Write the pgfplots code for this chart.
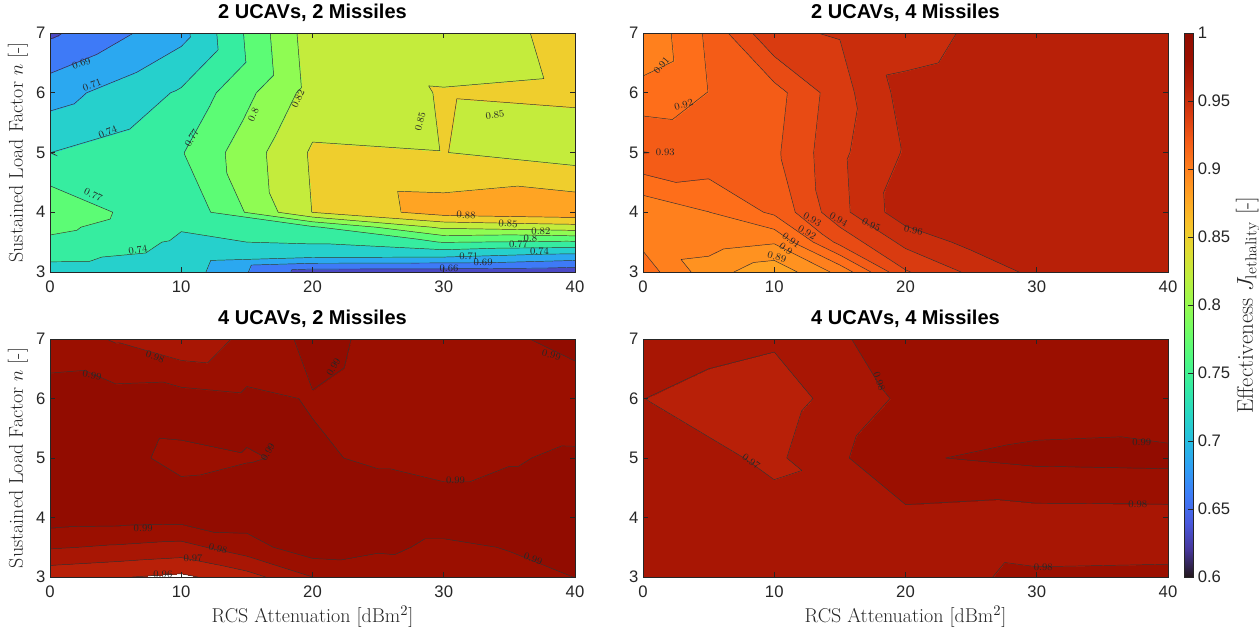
\documentclass[border=0pt]{standalone}
\usepackage{pgfplots}
\usepackage{pgfplotstable}
\pgfplotsset{compat=1.18}
\usepackage{fontspec}
\newfontfamily\arial{Liberation Sans}
\definecolor{axgray}{rgb}{0.15,0.15,0.15}
% turbo colormap (polynomial approximation)
\newcommand\turbo[2]{%
 \pgfmathsetmacro\tR{max(0,min(1,0.13572138+#2*(4.61539260+#2*(-42.66032258+#2*(132.13108234+#2*(-152.94239396+#2*59.28637943))))))}%
 \pgfmathsetmacro\tG{max(0,min(1,0.09140261+#2*(2.19418839+#2*(4.84296658+#2*(-14.18503333+#2*(4.27729857+#2*2.82956604))))))}%
 \pgfmathsetmacro\tB{max(0,min(1,0.10667330+#2*(12.64194608+#2*(-60.58204836+#2*(110.36276771+#2*(-89.90310912+#2*27.34824973))))))}%
 \definecolor{#1}{rgb}{\tR,\tG,\tB}}
\turbo{tb0}{0}\turbo{tb1}{0.05}\turbo{tb2}{0.1}\turbo{tb3}{0.15}\turbo{tb4}{0.2}
\turbo{tb5}{0.25}\turbo{tb6}{0.3}\turbo{tb7}{0.35}\turbo{tb8}{0.4}\turbo{tb9}{0.45}
\turbo{tb10}{0.5}\turbo{tb11}{0.55}\turbo{tb12}{0.6}\turbo{tb13}{0.65}\turbo{tb14}{0.7}
\turbo{tb15}{0.75}\turbo{tb16}{0.8}\turbo{tb17}{0.85}\turbo{tb18}{0.9}\turbo{tb19}{0.95}
\turbo{tb20}{1}
\turbo{pa1}{0.07875}\turbo{pa2}{0.1475}\turbo{pa3}{0.21625}\turbo{pa4}{0.285}
\turbo{pa5}{0.35375}\turbo{pa6}{0.4225}\turbo{pa7}{0.49125}\turbo{pa8}{0.56}
\turbo{pa9}{0.62875}\turbo{pa10}{0.6975}\turbo{pa11}{0.76625}
\turbo{q88}{0.7}\turbo{q89}{0.725}\turbo{q90}{0.75}\turbo{q91}{0.775}\turbo{q92}{0.8}
\turbo{q93}{0.825}\turbo{q94}{0.85}\turbo{q95}{0.875}\turbo{q96}{0.9}\turbo{q97}{0.925}
\turbo{q98}{0.95}\turbo{q99}{0.975}
% ---------------- data ----------------
\pgfplotstableread{
x y z
0 3 0.731
10 3 0.730
20 3 0.645
30 3 0.644
40 3 0.640
0 3.25 0.7464
10 3.25 0.734
20 3.25 0.716
30 3.25 0.714
40 3.25 0.700
0 3.5 0.7617
10 3.5 0.738
20 3.5 0.745
30 3.5 0.770
40 3.5 0.765
0 3.75 0.777
10 3.75 0.743
20 3.75 0.765
30 3.75 0.830
40 3.75 0.840
0 4 0.791
10 4 0.745
20 4 0.852
30 4 0.892
40 4 0.900
0 5 0.7413
10 5 0.767
20 5 0.855
30 5 0.852
40 5 0.838
0 6 0.702
10 6 0.745
20 6 0.835
30 6 0.853
40 6 0.856
0 7 0.654
10 7 0.705
20 7 0.840
30 7 0.837
40 7 0.859
}\tabA
\pgfplotstableread{
x y z
0 3 0.9154
5 3 0.8944
10 3 0.883
15 3 0.903
20 3 0.939
25 3 0.952
30 3 0.963
35 3 0.966
40 3 0.967
0 3.5 0.9077
5 3.5 0.905
10 3.5 0.901
15 3.5 0.933
20 3.5 0.953
25 3.5 0.963
30 3.5 0.966
35 3.5 0.967
40 3.5 0.967
0 4 0.902
5 4 0.9098
10 4 0.922
15 4 0.947
20 4 0.966
25 4 0.967
30 4 0.967
35 4 0.967
40 4 0.967
0 5 0.9302
5 5 0.928
10 5 0.928
15 5 0.948
20 5 0.961
25 5 0.966
30 5 0.967
35 5 0.967
40 5 0.967
0 6 0.9135
5 6 0.9202
10 6 0.926
15 6 0.946
20 6 0.964
25 6 0.967
30 6 0.967
35 6 0.967
40 6 0.967
0 7 0.901
5 7 0.922
10 7 0.949
15 7 0.9505
20 7 0.953
25 7 0.962
30 7 0.967
35 7 0.967
40 7 0.967
}\tabB
\pgfplotstableread{
x y z
0 3 0.963
5 3 0.9607
10 3 0.958
15 3 0.966
20 3 0.980
25 3 0.982
30 3 0.984
35 3 0.987
40 3 0.9901
0 3.5 0.981
5 3.5 0.9787
10 3.5 0.9764
15 3.5 0.986
20 3.5 0.996
25 3.5 0.992
30 3.5 0.988
35 3.5 0.9905
40 3.5 0.993
0 4 0.995
5 4 0.9945
10 4 0.994
15 4 0.9945
20 4 0.995
25 4 0.995
30 4 0.995
35 4 0.995
40 4 0.995
0 5 0.996
5 5 0.9921
10 5 0.9882
15 5 0.9896
20 5 0.991
25 5 0.9889
30 5 0.9867
35 5 0.9892
40 5 0.9916
0 6 0.993
5 6 0.9936
10 6 0.9942
15 6 0.9919
20 6 0.9895
25 6 0.9868
30 6 0.984
35 6 0.9838
40 6 0.9835
0 7 0.986
5 7 0.979
10 7 0.972
15 7 0.9825
20 7 0.993
25 7 0.9879
30 7 0.9827
35 7 0.9883
40 7 0.9938
}\tabC
\pgfplotstableread{
x y z
0 3 0.975
10 3 0.975
20 3 0.9784
30 3 0.9808
40 3 0.9810
0 4 0.975
10 4 0.9735
20 4 0.9775
30 4 0.9761
40 4 0.9763
0 5 0.9767
10 5 0.968
20 5 0.989
30 5 0.9923
40 5 0.993
0 6 0.9701
10 6 0.965
20 6 0.982
30 6 0.9846
40 6 0.981
0 7 0.975
10 7 0.9714
20 7 0.986
30 7 0.986
40 7 0.986
}\tabD
% ---------------- contour lines (marching triangles on the same grid) ----------------
\newcommand\getpt[3]{%
 \pgfplotstablegetelem{#2}{x}\of{#1}\expandafter\let\csname x#3\endcsname\pgfplotsretval
 \pgfplotstablegetelem{#2}{y}\of{#1}\expandafter\let\csname y#3\endcsname\pgfplotsretval
 \pgfplotstablegetelem{#2}{z}\of{#1}\expandafter\let\csname z#3\endcsname\pgfplotsretval}
\newcommand\edgecross[3]{%
 \edef\zU{\csname z#1\endcsname}\edef\zV{\csname z#2\endcsname}%
 \edef\xU{\csname x#1\endcsname}\edef\xV{\csname x#2\endcsname}%
 \edef\yU{\csname y#1\endcsname}\edef\yV{\csname y#2\endcsname}%
 \pgfmathtruncatemacro\su{\zU>=#3}\pgfmathtruncatemacro\sv{\zV>=#3}%
 \ifnum\su=\sv\else
  \pgfmathsetmacro\tpar{(#3-\zU)/(\zV-\zU)}%
  \pgfmathsetmacro\cx{\xU+\tpar*(\xV-\xU)}%
  \pgfmathsetmacro\cy{\yU+\tpar*(\yV-\yU)}%
  \edef\cpts{\cpts(\cx,\cy) }%
 \fi}
\newcommand\tri[4]{\def\cpts{}\edgecross{#1}{#2}{#4}\edgecross{#2}{#3}{#4}\edgecross{#3}{#1}{#4}%
 \ifx\cpts\empty\else\xdef\segs{\segs\cpts(nan,nan) }\fi}
\newcommand\contourlines[4]{% table, nx, ny, levels
 \gdef\segs{}%
 \pgfmathtruncatemacro\nxm{#2-2}\pgfmathtruncatemacro\nym{#3-2}%
 \foreach \jj in {0,...,\nym}{%
  \foreach \ii in {0,...,\nxm}{%
   \pgfmathtruncatemacro\rA{\jj*#2+\ii}\pgfmathtruncatemacro\rB{\rA+1}%
   \pgfmathtruncatemacro\rC{\rA+#2}\pgfmathtruncatemacro\rD{\rC+1}%
   \getpt{#1}{\rA}{A}\getpt{#1}{\rB}{B}\getpt{#1}{\rC}{C}\getpt{#1}{\rD}{D}%
   \foreach \LL in {#4}{\tri{A}{B}{C}{\LL}\tri{B}{D}{C}{\LL}}%
  }}}
\contourlines{\tabA}{5}{8}{0.659,0.6865,0.714,0.7415,0.769,0.7965,0.824,0.8515,0.879}\global\let\segsA\segs
\contourlines{\tabB}{9}{6}{0.88,0.89,0.9,0.91,0.92,0.93,0.94,0.95,0.96}\global\let\segsB\segs
\contourlines{\tabC}{9}{6}{0.96,0.97,0.98,0.99}\global\let\segsC\segs
\contourlines{\tabD}{5}{5}{0.96,0.97,0.98,0.99}\global\let\segsD\segs
\tikzset{lab/.style={font=\fontsize{7.5}{8}\selectfont, inner sep=0.3pt, text=black!85}}
\pgfplotsset{
 colormap={turbo}{color(0pt)=(tb0) color(1pt)=(tb1) color(2pt)=(tb2) color(3pt)=(tb3) color(4pt)=(tb4) color(5pt)=(tb5) color(6pt)=(tb6) color(7pt)=(tb7) color(8pt)=(tb8) color(9pt)=(tb9) color(10pt)=(tb10) color(11pt)=(tb11) color(12pt)=(tb12) color(13pt)=(tb13) color(14pt)=(tb14) color(15pt)=(tb15) color(16pt)=(tb16) color(17pt)=(tb17) color(18pt)=(tb18) color(19pt)=(tb19) color(20pt)=(tb20)},
 colormap={cmA}{color(600pt)=(white) color(631.5pt)=(pa1) color(659pt)=(pa2) color(686.5pt)=(pa3) color(714pt)=(pa4) color(741.5pt)=(pa5) color(769pt)=(pa6) color(796.5pt)=(pa7) color(824pt)=(pa8) color(851.5pt)=(pa9) color(879pt)=(pa10) color(906.5pt)=(pa11) color(1000pt)=(pa11)},
 colormap={cmB}{color(600pt)=(white) color(880pt)=(q88) color(890pt)=(q89) color(900pt)=(q90) color(910pt)=(q91) color(920pt)=(q92) color(930pt)=(q93) color(940pt)=(q94) color(950pt)=(q95) color(960pt)=(q96) color(970pt)=(q97) color(1000pt)=(q97)},
 colormap={cmC}{color(600pt)=(white) color(960pt)=(q96) color(970pt)=(q97) color(980pt)=(q98) color(990pt)=(q99) color(1000pt)=(q99)},
 panel/.style={
  scale only axis, width=393.75pt, height=179.25pt,
  xmin=0,xmax=40,ymin=3,ymax=7, enlargelimits=false,
  xtick={0,10,20,30,40}, ytick={3,4,5,6,7},
  tick align=inside, major tick length=3.5pt,
  tick style={axgray, line width=0.4pt},
  axis line style={axgray, line width=0.4pt},
  axis on top,
  point meta min=0.6, point meta max=1,
  /pgf/number format/assume math mode=true,
  tick label style={font=\arial\fontsize{12.5}{15}\selectfont, text=axgray},
  xticklabel style={yshift=-3pt},
  title style={font=\arial\bfseries\fontsize{15}{18}\selectfont, at={(0.5,1)}, anchor=south, inner sep=0pt, yshift=2pt},
  label style={font=\fontsize{15}{18}\selectfont, text=axgray},
  ylabel style={at={(axis description cs:-0.061,0.5)}, anchor=center},
  xlabel style={at={(axis description cs:0.5,-0.193)}, anchor=base},
 },
 cf/.style={surf, shader=interp, colormap access=piecewise constant, point meta=\thisrow{z}},
 cline/.style={draw=black!80, line width=0.35pt, unbounded coords=jump, mark=none, forget plot},
}
\begin{document}
\begin{tikzpicture}
\path[use as bounding box] (0,0) rectangle (944.25pt,-471pt);
% ---------- panel 1
\begin{axis}[panel, at={(37.5pt,-204pt)}, anchor=south west, colormap name=cmA,
 title={2 UCAVs, 2 Missiles}, ylabel={Sustained Load Factor $n$ [-]}]
\addplot[cf, mesh/rows=8, mesh/cols=5] table {\tabA};
\edef\temp{\noexpand\addplot[cline] coordinates {\segsA};}\temp
\node[lab, rotate=20] at (axis cs:2.4,6.49) {0.69};
\node[lab, rotate=20] at (axis cs:3.2,6.13) {0.71};
\node[lab, rotate=22] at (axis cs:4.4,5.35) {0.74};
\node[lab, rotate=60] at (axis cs:10.8,5.24) {0.77};
\node[lab, rotate=65] at (axis cs:15.5,5.63) {0.8};
\node[lab, rotate=65] at (axis cs:18.9,5.9) {0.82};
\node[lab, rotate=75] at (axis cs:28.2,5.52) {0.85};
\node[lab, rotate=8] at (axis cs:33.9,5.63) {0.85};
\node[lab, rotate=-25] at (axis cs:3.3,4.29) {0.77};
\node[lab, rotate=10] at (axis cs:6.7,3.37) {0.74};
\node[lab, rotate=-3] at (axis cs:31.7,3.95) {0.88};
\node[lab, rotate=-3] at (axis cs:34.9,3.81) {0.85};
\node[lab] at (axis cs:37.4,3.68) {0.82};
\node[lab] at (axis cs:36.6,3.57) {0.8};
\node[lab] at (axis cs:35.7,3.46) {0.77};
\node[lab] at (axis cs:37.3,3.34) {0.74};
\node[lab] at (axis cs:31.9,3.26) {0.71};
\node[lab] at (axis cs:33.0,3.16) {0.69};
\node[lab] at (axis cs:30.4,3.06) {0.66};
\end{axis}
% ---------- panel 2
\begin{axis}[panel, at={(482.25pt,-204pt)}, anchor=south west, colormap name=cmB,
 title={2 UCAVs, 4 Missiles}]
\addplot[cf, mesh/rows=6, mesh/cols=9] table {\tabB};
\edef\temp{\noexpand\addplot[cline] coordinates {\segsB};}\temp
\node[lab, rotate=50] at (axis cs:1.4,6.46) {0.91};
\node[lab, rotate=15] at (axis cs:3.1,5.8) {0.92};
\node[lab] at (axis cs:1.7,5.0) {0.93};
\node[lab, rotate=-30] at (axis cs:12.9,3.88) {0.93};
\node[lab, rotate=-30] at (axis cs:14.9,3.88) {0.94};
\node[lab, rotate=-25] at (axis cs:17.4,3.79) {0.95};
\node[lab, rotate=-30] at (axis cs:12.5,3.66) {0.92};
\node[lab, rotate=-35] at (axis cs:11.3,3.53) {0.91};
\node[lab, rotate=-35] at (axis cs:10.9,3.39) {0.9};
\node[lab, rotate=-15] at (axis cs:10.2,3.25) {0.89};
\node[lab, rotate=-10] at (axis cs:20.6,3.7) {0.96};
\end{axis}
% ---------- panel 3
\begin{axis}[panel, height=178.5pt, at={(37.5pt,-432.75pt)}, anchor=south west, colormap name=cmC,
 title={4 UCAVs, 2 Missiles}, ylabel={Sustained Load Factor $n$ [-]}, xlabel={RCS Attenuation [dBm$^2$]}]
\addplot[cf, mesh/rows=6, mesh/cols=9] table {\tabC};
\edef\temp{\noexpand\addplot[cline] coordinates {\segsC};}\temp
\node[lab, rotate=-20] at (axis cs:8.0,6.7) {0.98};
\node[lab, rotate=-10] at (axis cs:3.2,6.39) {0.99};
\node[lab, rotate=60] at (axis cs:16.6,5.1) {0.99};
\node[lab] at (axis cs:7.1,3.82) {0.99};
\node[lab, rotate=-15] at (axis cs:12.8,3.48) {0.98};
\node[lab] at (axis cs:10.9,3.31) {0.97};
\node[lab] at (axis cs:8.6,3.05) {0.96};
\node[lab, rotate=60] at (axis cs:21.6,6.53) {0.99};
\node[lab] at (axis cs:30.9,4.63) {0.99};
\node[lab, rotate=-15] at (axis cs:38.2,6.73) {0.99};
\node[lab, rotate=-20] at (axis cs:36.8,3.31) {0.99};
\end{axis}
% ---------- panel 4
\begin{axis}[panel, height=178.5pt, at={(482.25pt,-432.75pt)}, anchor=south west, colormap name=cmC,
 title={4 UCAVs, 4 Missiles}, xlabel={RCS Attenuation [dBm$^2$]}]
\addplot[cf, mesh/rows=5, mesh/cols=5] table {\tabD};
\edef\temp{\noexpand\addplot[cline] coordinates {\segsD};}\temp
\node[lab, rotate=-70] at (axis cs:18.0,6.29) {0.98};
\node[lab, rotate=-35] at (axis cs:8.25,4.94) {0.97};
\node[lab] at (axis cs:38.0,5.27) {0.99};
\node[lab] at (axis cs:37.7,4.23) {0.98};
\node[lab] at (axis cs:30.5,3.17) {0.98};
\end{axis}
% ---------- colorbar
\begin{axis}[scale only axis, width=6.3pt, height=408pt, at={(888.5pt,-432.75pt)}, anchor=south west,
 xmin=0, xmax=1, ymin=0.6, ymax=1, enlargelimits=false, xtick=\empty,
 ytick={0.6,0.65,0.7,0.75,0.8,0.85,0.9,0.95,1}, ytick pos=right, yticklabel pos=right,
 tick align=inside, major tick length=4pt, tick style={axgray, line width=0.4pt},
 axis line style={axgray, line width=0.4pt}, axis on top, colormap name=turbo,
 /pgf/number format/assume math mode=true,
 tick label style={font=\arial\fontsize{12.5}{15}\selectfont, text=axgray},
 ylabel={Effectiveness $J_{\mathrm{lethality}}$ [-]},
 ylabel style={at={(axis description cs:7.5,0.5)}, anchor=center, font=\fontsize{17}{20}\selectfont, text=axgray}]
\addplot[surf, shader=interp, mesh/rows=2, mesh/cols=2, point meta=\thisrow{y}] table {
x y
0 0.6
1 0.6
0 1
1 1
};
\end{axis}
\end{tikzpicture}
\end{document}
